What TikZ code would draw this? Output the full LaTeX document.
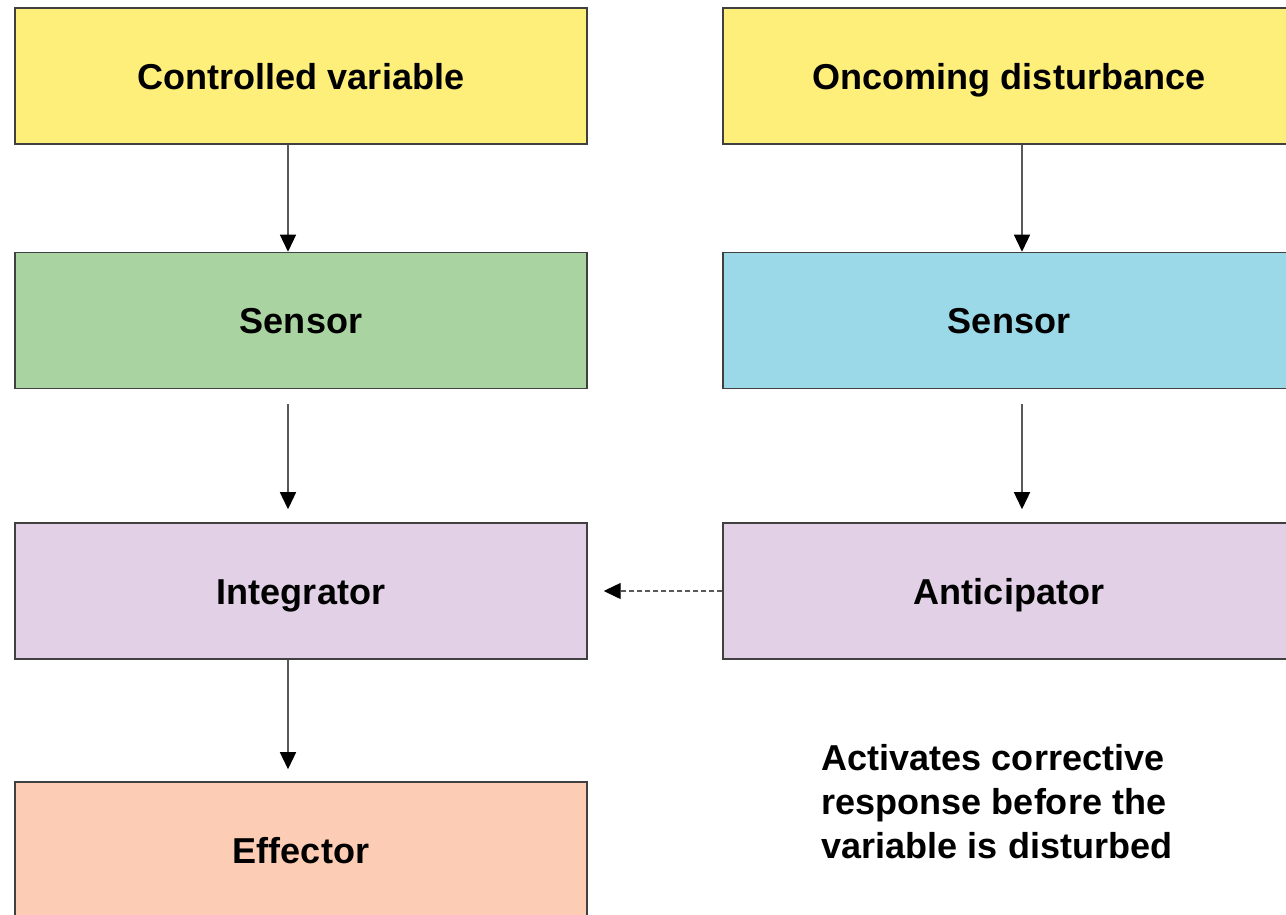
\documentclass[tikz,border=0pt]{standalone}
\usepackage{fontspec}
\setmainfont{Liberation Sans}
\usetikzlibrary{arrows.meta,calc}
\definecolor{lemon}{HTML}{FDEF7A}
\definecolor{sage}{HTML}{A9D3A0}
\definecolor{sky}{HTML}{9BD8E8}
\definecolor{lilac}{HTML}{E2D0E6}
\definecolor{peach}{HTML}{FCCCB4}
\colorlet{edge}{black!75}
\tikzset{
  box/.style={draw=edge,line width=0.9pt,minimum width=11.44cm,minimum height=2.72cm,
    inner sep=0pt,text height=0.52cm,text depth=0pt},
  link/.style={draw=black!65,line width=0.8pt,-{Triangle[length=0.34cm,width=0.32cm,black]}}
}

\begin{document}
\begin{tikzpicture}[x=0.02cm,y=-0.02cm,font=\fontsize{20.5}{25}\selectfont\bfseries]
    \useasboundingbox (0,0) rectangle (1286,914);
    % feedback column
    \foreach \n/\y/\col/\lab in {cv/76/lemon/{Controlled variable},
      sl/320.5/sage/Sensor, ig/591/lilac/Integrator, ef/850/peach/Effector}{
      \node[box,fill=\col] (\n) at (301,\y) {\lab};}
    % feedforward column
    \foreach \n/\y/\col/\lab in {od/76/lemon/{Oncoming disturbance},
      sr/320.5/sky/Sensor, an/591/lilac/Anticipator}{
      \node[box,fill=\col] (\n) at (1009,\y) {\lab};}
    \node[align=left,inner sep=0pt] (note) at (997,802)
      {Activates corrective\\response before the\\variable is disturbed};
    \draw[link] ($(cv.south)+(-13,0)$) -- ($(sl.north)+(-13,0)$);
    \draw[link,shorten <=0.3cm,shorten >=0.26cm] ($(sl.south)+(-13,0)$) -- ($(ig.north)+(-13,0)$);
    \draw[link,shorten >=0.24cm] ($(ig.south)+(-13,0)$) -- ($(ef.north)+(-13,0)$);
    \draw[link] ($(od.south)+(13,0)$) -- ($(sr.north)+(13,0)$);
    \draw[link,shorten <=0.3cm,shorten >=0.26cm] ($(sr.south)+(13,0)$) -- ($(an.north)+(13,0)$);
    \draw[link,dashed,dash pattern=on 0.1cm off 0.06cm,shorten >=0.32cm] (an.west) -- (ig.east);
  \end{tikzpicture}
\end{document}
